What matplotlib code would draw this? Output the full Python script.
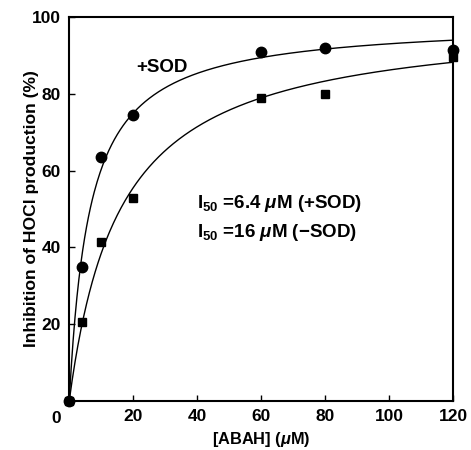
import numpy as np
import matplotlib as mpl
mpl.use('Agg')
mpl.rcParams.update({
    'font.family': 'Liberation Sans',
    'font.weight': 'bold',
    'axes.labelweight': 'bold',
    'font.size': 11,
    'mathtext.fontset': 'custom',
    'mathtext.rm': 'Liberation Sans:bold',
    'mathtext.bf': 'Liberation Sans:bold',
    'mathtext.it': 'Liberation Sans:italic:bold',
})
from matplotlib import pyplot as plt
from matplotlib import transforms

abah = [0, 4, 10, 20, 60, 80, 120]
with_sod = [0, 35, 63.5, 74.5, 91, 92, 91.5]
without_sod = [0, 20.5, 41.5, 53, 79, 80, 89.5]

# hyperbolic fits: y = ymax * x / (I50 + x)
i50_with, ymax_with = 6.4, 99.0
i50_without, ymax_without = 16.0, 100.0

xticks = [20, 40, 60, 80, 100, 120]
yticks = [20, 40, 60, 80, 100]


def plot():
    fig = plt.figure(figsize=(4.71, 4.5), dpi=100)
    ax = fig.add_axes([0.147, 0.109, 0.815, 0.853])

    xs = np.linspace(0, 120, 400)
    ax.plot(xs, ymax_with * xs / (i50_with + xs), color='black', lw=1.0)
    ax.plot(xs, ymax_without * xs / (i50_without + xs), color='black', lw=1.0)
    ax.plot(abah, with_sod, 'o', color='black', ms=7.5, clip_on=False, zorder=5)
    ax.plot(abah, without_sod, 's', color='black', ms=6.3, clip_on=False, zorder=5)

    ax.set_xlim(0, 120)
    ax.set_ylim(0, 100)
    ax.set_xticks(xticks)
    ax.set_yticks(yticks)
    ax.tick_params(direction='in', length=4, width=1.0, labelsize=12.5, pad=6)
    for s in ax.spines.values():
        s.set_linewidth(1.5)

    # the "0" label sits below and left of the corner
    tr = transforms.offset_copy(ax.transData, fig=fig, x=-13, y=-10, units='dots')
    ax.text(0, 0, '0', transform=tr, ha='center', va='top', fontsize=12.5)

    ax.set_xlabel(r'[ABAH] ($\mu$M)', fontsize=11.8, labelpad=4)
    ax.set_ylabel('Inhibition of HOCl production (%)', fontsize=12.6, labelpad=-5)

    ax.text(29, 87, '+SOD', ha='center', va='center', fontsize=13.5)
    ax.text(40, 51.5, r'I$_{50}$ =6.4 $\mu$M (+SOD)', ha='left', va='center', fontsize=13.5)
    ax.text(40, 44, r'I$_{50}$ =16 $\mu$M (−SOD)', ha='left', va='center', fontsize=13.5)

    fig.savefig('out.png', dpi=100)


plot()
